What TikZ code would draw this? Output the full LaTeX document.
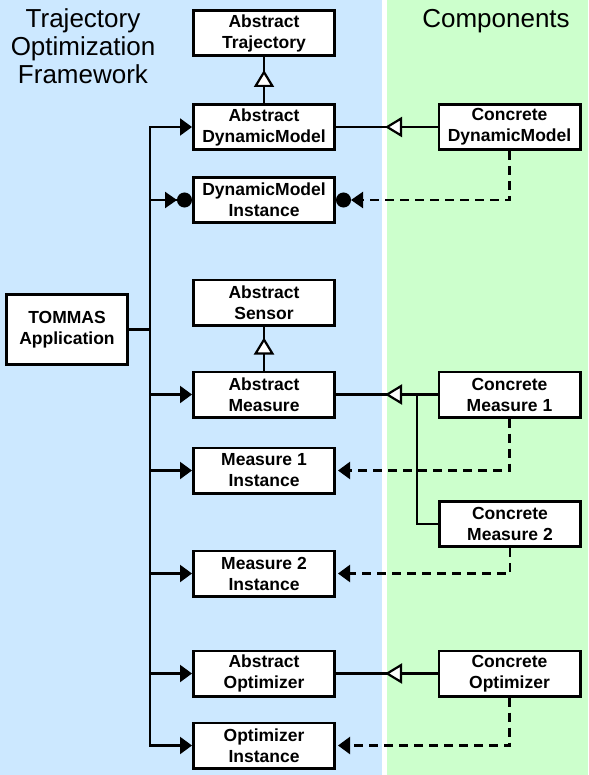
\documentclass[tikz,border=0pt]{standalone}
\usepackage{fontspec}
\setmainfont{Liberation Sans}
\usetikzlibrary{arrows.meta}
\definecolor{bgblue}{RGB}{204,232,255}
\definecolor{bggreen}{RGB}{204,255,204}
\begin{document}
\begin{tikzpicture}[x=1pt,y=-1pt,
  box/.style={draw, line width=2.6pt, fill=white, minimum width=141.4pt, minimum height=45.4pt,
    inner sep=0pt, align=center, font=\fontsize{17.5}{21}\selectfont\bfseries},
  conn/.style={line width=2.2pt},
  arr/.style={conn, -{Triangle[length=12pt,width=17pt]}},
  darr/.style={arr, shorten >=2pt},
  ball/.style={conn, -{Triangle[length=12pt,width=16pt] Circle[length=15pt]}},
  inh/.style={conn, -{Triangle[length=17pt,width=20pt,fill=white]}},
  dep/.style={dash pattern=on 9pt off 6pt},
  title/.style={align=center, font=\fontsize{26}{28}\selectfont}
]
\useasboundingbox (0,0) rectangle (588,775);
\fill[white] (0,0) rectangle (588,775);
\fill[bgblue] (0,0) rectangle (382,775);
\fill[bggreen] (387,0) rectangle (588,775);

\node[title] (ttl) at (83,46) {Trajectory\\Optimization\\Framework};
\node[title, anchor=base] (comp) at (496,28) {Components};

\node[box] (traj) at (264,33) {Abstract\\Trajectory};
\node[box] (adm) at (264,127) {Abstract\\DynamicModel};
\node[box] (dmi) at (264,200) {DynamicModel\\Instance};
\node[box] (sens) at (264,302.5) {Abstract\\Sensor};
\node[box] (am) at (264,394.5) {Abstract\\Measure};
\node[box] (m1i) at (264,470.5) {Measure 1\\Instance};
\node[box] (m2i) at (264,573.5) {Measure 2\\Instance};
\node[box] (ao) at (264,673.5) {Abstract\\Optimizer};
\node[box] (oi) at (264,745.5) {Optimizer\\Instance};
\node[box, minimum width=121.4pt, minimum height=70.4pt] (tom) at (67,329.5) {TOMMAS\\Application};
\node[box] (cdm) at (509.5,127) {Concrete\\DynamicModel};
\node[box] (cm1) at (509.5,394.5) {Concrete\\Measure 1};
\node[box] (cm2) at (510,524) {Concrete\\Measure 2};
\node[box] (co) at (509.5,673.5) {Concrete\\Optimizer};

\coordinate (trunk) at (150,0);
\coordinate (bnd) at (385,0);
\coordinate (mj) at (417,0);

% trunk
\draw[arr] (tom.east -| trunk) |- (adm.west);
\draw[arr] (tom.east -| trunk) |- (oi.west);
\draw[conn] (tom.east) -- (tom.east -| trunk);
\draw[ball] (dmi.west -| trunk) -- (dmi.west);
\draw[arr] (am.west -| trunk) -- (am.west);
\draw[arr] (m1i.west -| trunk) -- (m1i.west);
\draw[arr] (m2i.west -| trunk) -- (m2i.west);
\draw[arr] (ao.west -| trunk) -- (ao.west);

% vertical inheritance
\draw[conn] (adm.north) -- (traj.south);
\draw[inh, shorten >=13pt] (adm.north) -- (traj.south);
\draw[conn] (am.north) -- (sens.south);
\draw[inh, shorten >=11pt] (am.north) -- (sens.south);

% horizontal inheritance
\draw[conn] (cdm.west) -- (adm.east);
\draw[inh] (cdm.west) -- (adm.east -| bnd);
\draw[conn] (cm1.west) -- (am.east);
\draw[inh] (cm1.west) -- (am.east -| bnd);
\draw[conn] (cm2.west) -| (am.east -| mj);
\draw[conn] (co.west) -- (ao.east);
\draw[inh] (co.west) -- (ao.east -| bnd);

% dependencies
\draw[dep, ball] (cdm.south) |- (dmi.east);
\draw[dep, darr] (cm1.south) |- (m1i.east);
\draw[dep, darr] (cm2.south) |- (m2i.east);
\draw[dep, darr] (co.south) |- (oi.east);
\end{tikzpicture}
\end{document}
